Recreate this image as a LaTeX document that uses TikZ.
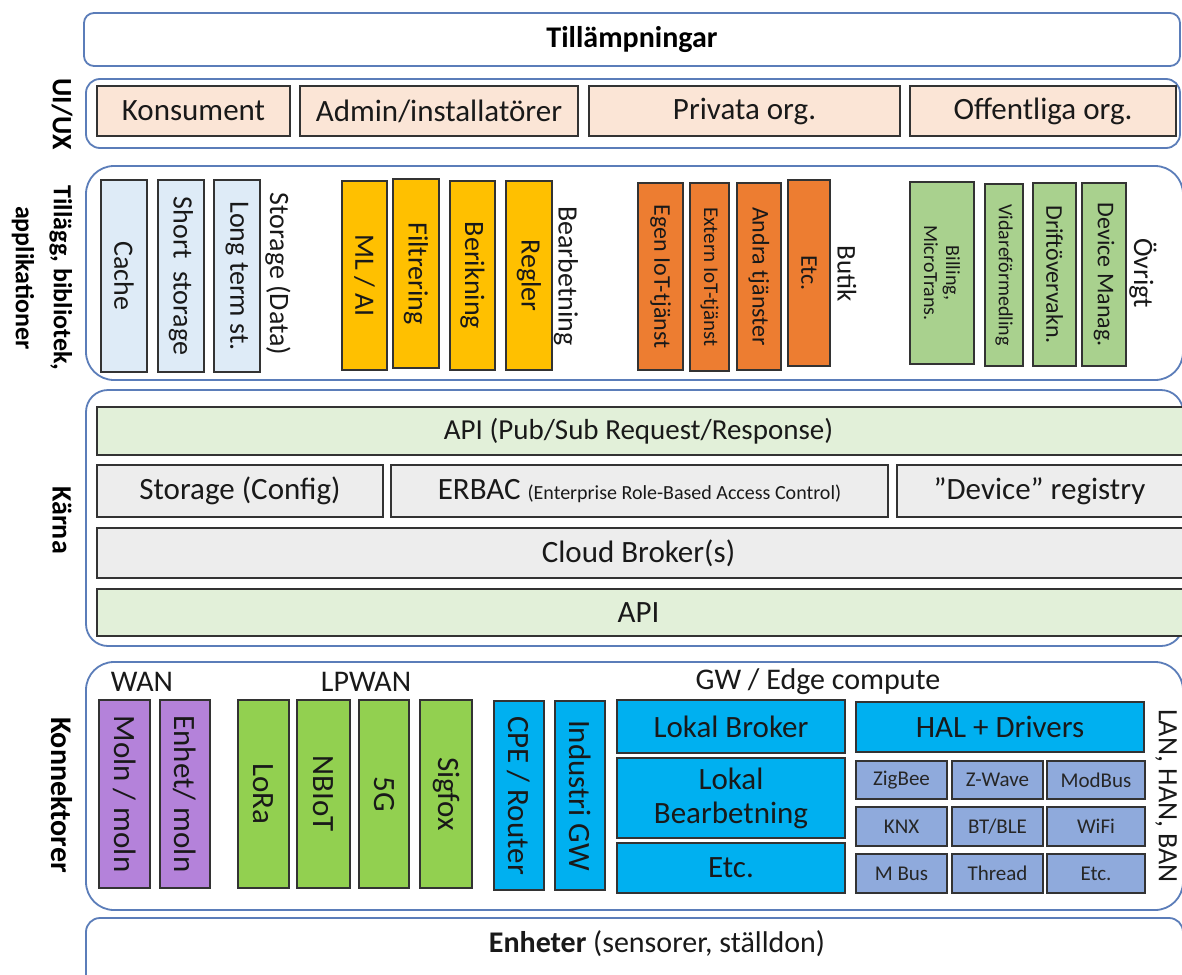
\documentclass[tikz,border=0pt]{standalone}
\usepackage{fontspec}
\setmainfont{Carlito}
\definecolor{frameblue}{RGB}{91,125,185}
\definecolor{peach}{RGB}{251,229,214}
\definecolor{lblue}{RGB}{222,235,247}
\definecolor{myyellow}{RGB}{255,192,0}
\definecolor{myorange}{RGB}{237,125,49}
\definecolor{lgreen}{RGB}{169,209,142}
\definecolor{pgreen}{RGB}{226,240,217}
\definecolor{lgray}{RGB}{237,237,237}
\definecolor{purp}{RGB}{180,130,218}
\definecolor{mgreen}{RGB}{146,208,80}
\definecolor{cyanb}{RGB}{0,176,240}
\definecolor{sblue}{RGB}{143,170,220}
\newcommand\fs[2]{\fontsize{#1}{#2}\selectfont}
\newcommand\hrect[7]{%
  \pgfmathsetmacro\rcx{(#3+#5)/2}\pgfmathsetmacro\rcy{(#4+#6)/2}%
  \pgfmathsetmacro\rw{#5-#3}\pgfmathsetmacro\rh{#6-#4}%
  \node[#2, minimum width=\rw pt, minimum height=\rh pt] (#1) at (\rcx,\rcy) {#7};}
\newcommand\vrect[7]{%
  \pgfmathsetmacro\rcx{(#3+#5)/2}\pgfmathsetmacro\rcy{(#4+#6)/2}%
  \pgfmathsetmacro\rw{#5-#3}\pgfmathsetmacro\rh{#6-#4}%
  \node[#2, rotate=-90, minimum width=\rh pt, minimum height=\rw pt] (#1) at (\rcx,\rcy) {#7};}
\begin{document}
\begin{tikzpicture}[x=1pt,y=-1pt,
  frame/.style={draw=frameblue, line width=1.8pt, rounded corners=22pt, fill=white, inner sep=0pt, font=\fs{30}{34}},
  box/.style={draw=black!80, line width=1.4pt, inner sep=0pt, align=center, text=black!90, font=\fs{31}{34}},
  tbox/.style={box, font=\fs{28}{32}},
  obox/.style={box, fill=myorange, font=\fs{24}{28}},
  gbox/.style={box, fill=lgreen, font=\fs{24}{28}},
  sbox/.style={box, fill=sblue, font=\fs{21}{24}, text=black!85},
  sec/.style={rotate=-90, align=center, inner sep=0pt},
  lbl/.style={inner sep=0pt, font=\fs{30}{34}, text=black!90},
  vlbl/.style={lbl, rotate=-90, font=\fs{28}{32}},
]
\useasboundingbox (0,0) rectangle (1182,974);
\clip (0,0) rectangle (1182,974);
\fill[white] (0,0) rectangle (1182,974);

% frames
\hrect{app}{frame, rounded corners=10pt}{84}{13}{1180}{66}{\bfseries Tillämpningar}
\hrect{uiux}{frame, rounded corners=14pt}{86}{79}{1180}{148}{}
\hrect{till}{frame, rounded corners=28pt}{86}{166}{1183}{380}{}
\hrect{karna}{frame, rounded corners=22pt}{86}{390}{1183}{646}{}
\hrect{konn}{frame, rounded corners=28pt}{86}{662}{1183}{910}{}
\hrect{enh}{frame, rounded corners=14pt}{86}{918}{1183}{1010}{}
\node[lbl, font=\fs{30}{34}] (enhtext) at (657,944) {\textbf{Enheter} (sensorer, ställdon)};

% section labels
\node[sec, font=\bfseries\fs{28}{30}] (l-ui) at (62,114) {UI/UX};
\node[sec, font=\bfseries\fs{26}{38}] (l-till) at (42,278) {Tillägg, bibliotek,\\applikationer};
\node[sec, font=\bfseries\fs{28}{30}] (l-karna) at (62,520) {Kärna};
\node[sec, font=\bfseries\fs{30}{34}] (l-konn) at (62,795) {Konnektorer};

% UI/UX
\hrect{kons}{box, fill=peach}{97}{86}{290}{136}{Konsument}
\hrect{admin}{box, fill=peach}{300}{86}{578}{136}{Admin/installatörer}
\hrect{priv}{box, fill=peach}{589}{86}{900}{136}{Privata org.}
\hrect{offl}{box, fill=peach}{910}{86}{1176}{136}{Offentliga org.}

% Tillagg
\vrect{cache}{tbox, fill=lblue}{101}{180}{147}{372}{Cache}
\vrect{short}{tbox, fill=lblue}{158}{180}{204}{372}{Short~~storage}
\vrect{long}{tbox, fill=lblue}{214}{180}{260}{372}{Long term st.}
\node[vlbl] (stdata) at (278,274) {Storage (Data)};
\vrect{ml}{tbox, fill=myyellow}{342}{181}{387}{370}{ML / AI}
\vrect{filt}{tbox, fill=myyellow}{393}{179}{439}{368}{Filtrering}
\vrect{berik}{tbox, fill=myyellow}{450}{181}{495}{370}{Berikning}
\vrect{regler}{tbox, fill=myyellow}{506}{181}{552}{370}{Regler}
\node[vlbl] (bearb) at (566,276) {Bearbetning};
\vrect{egen}{obox}{638}{183}{683}{370}{Egen IoT-tjänst}
\vrect{extern}{obox, font=\fs{21}{24}}{690}{183}{729}{371}{Extern IoT-tjänst}
\vrect{andra}{obox}{737}{183}{781}{370}{Andra tjänster}
\vrect{etc1}{obox}{788}{180}{830}{366}{Etc.}
\node[vlbl, font=\fs{27}{32}] (butik) at (847,274) {Butik};
\vrect{billing}{gbox, font=\fs{20}{22}}{910}{182}{974}{364}{Billing,\\MicroTrans.}
\vrect{vidare}{gbox, font=\fs{20}{24}}{985}{184}{1023}{366}{Vidareförmedling}
\vrect{drift}{gbox}{1033}{183}{1076}{366}{Driftövervakn.}
\vrect{devman}{gbox}{1082}{183}{1126}{366}{Device Manag.}
\node[vlbl] (ovrigt) at (1143,273) {Övrigt};

% Karna (boxes run past the right edge)
\hrect{api1}{box, fill=pgreen, font=\fs{29}{34}}{97}{407}{1190}{455}{\hspace*{-10pt}API (Pub/Sub Request/Response)}
\hrect{stcfg}{box, fill=lgray}{97}{465}{383}{517}{Storage (Config)}
\hrect{erbac}{box, fill=lgray}{391}{465}{888}{517}{ERBAC {\fs{20}{22}(Enterprise Role-Based Access Control)}}
\hrect{devreg}{box, fill=lgray}{897}{465}{1190}{517}{\hspace*{-8pt}”Device” registry}
\hrect{cloud}{box, fill=lgray}{97}{528}{1190}{578}{\hspace*{-10pt}Cloud Broker(s)}
\hrect{api2}{box, fill=pgreen}{97}{589}{1190}{636}{\hspace*{-10pt}API}

% Konnektorer
\node[lbl] (wan) at (142,682) {WAN};
\node[lbl] (lpwan) at (366,682) {LPWAN};
\node[lbl] (gwedge) at (818,682) {GW / Edge compute};
\vrect{moln}{box, fill=purp}{99}{700}{150}{888}{Moln / moln}
\vrect{enhmoln}{box, fill=purp}{160}{700}{210}{888}{Enhet/ moln}
\vrect{lora}{box, fill=mgreen}{238}{700}{289}{888}{LoRa}
\vrect{nbiot}{box, fill=mgreen}{297}{700}{350}{888}{NBIoT}
\vrect{fiveg}{box, fill=mgreen}{359}{700}{409}{888}{5G}
\vrect{sigfox}{box, fill=mgreen}{420}{700}{472}{888}{Sigfox}
\vrect{cpe}{box, fill=cyanb}{494}{701}{544}{890}{CPE / Router}
\vrect{indgw}{box, fill=cyanb}{555}{701}{605}{890}{Industri GW}
\hrect{lbroker}{box, fill=cyanb}{617}{700}{845}{753}{Lokal Broker}
\hrect{lbearb}{box, fill=cyanb}{617}{758}{845}{838}{Lokal\\Bearbetning}
\hrect{etc2}{box, fill=cyanb}{617}{843}{845}{893}{Etc.}
\hrect{hal}{box, fill=cyanb}{856}{702}{1144}{752}{HAL + Drivers}
\hrect{zigbee}{sbox}{856}{761}{947}{799}{ZigBee}
\hrect{zwave}{sbox}{952}{761}{1043}{799}{Z-Wave}
\hrect{modbus}{sbox}{1047}{761}{1145}{799}{ModBus}
\hrect{knx}{sbox}{856}{807}{947}{846}{KNX}
\hrect{btble}{sbox}{952}{807}{1043}{846}{BT/BLE}
\hrect{wifi}{sbox}{1047}{807}{1145}{846}{WiFi}
\hrect{mbus}{sbox}{856}{854}{947}{893}{M Bus}
\hrect{thread}{sbox}{952}{854}{1043}{893}{Thread}
\hrect{etc3}{sbox}{1047}{854}{1145}{893}{Etc.}
\node[vlbl] (lanhan) at (1166,796) {LAN, HAN, BAN};
\end{tikzpicture}
\end{document}
